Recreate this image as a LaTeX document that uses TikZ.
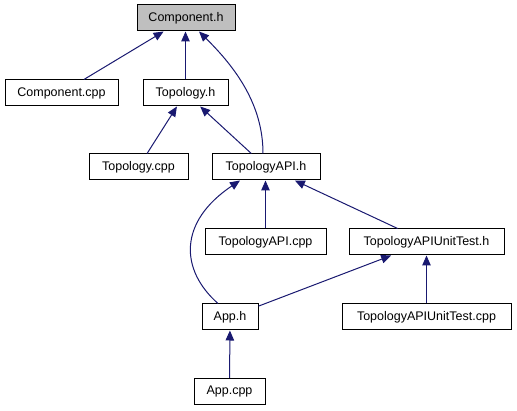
\documentclass[tikz,border=0pt]{standalone}
\usepackage{fontspec}
\setmainfont{Liberation Sans}
\usetikzlibrary{arrows.meta}
\definecolor{edgecol}{HTML}{191970}
\definecolor{grayfill}{HTML}{BFBFBF}
\begin{document}
\begin{tikzpicture}[x=1pt,y=-1pt,
  box/.style={draw=black,line width=1pt,fill=white,inner sep=0pt,minimum height=26pt,
    font=\fontsize{12.5}{15}\selectfont,anchor=center},
  edge/.style={draw=edgecol,line width=1pt,-{Triangle[length=10pt,width=8.5pt]},shorten >=0pt}]
\useasboundingbox (0,0) rectangle (517,411);
\node[box,fill=grayfill,minimum width=98pt] (comph) at (186,18) {Component.h};
\node[box,minimum width=113pt] (compcpp) at (61.5,93) {Component.cpp};
\node[box,minimum width=85pt] (toph) at (185.5,93) {Topology.h};
\node[box,minimum width=99pt] (topcpp) at (138.5,167) {Topology.cpp};
\node[box,minimum width=108pt] (apih) at (266,167) {TopologyAPI.h};
\node[box,minimum width=121pt] (apicpp) at (265.5,242) {TopologyAPI.cpp};
\node[box,minimum width=155pt] (unith) at (426.5,242) {TopologyAPIUnitTest.h};
\node[box,minimum width=56pt] (apph) at (230,317) {App.h};
\node[box,minimum width=169pt] (unitcpp) at (426.5,317) {TopologyAPIUnitTest.cpp};
\node[box,minimum width=71pt] (appcpp) at (229.5,391.5) {App.cpp};
\draw[edge] (compcpp) -- (comph);
\draw[edge] (toph.north) -- (toph.north |- comph.south);
\draw[edge] ([xshift=-3pt]apih.north) .. controls (263,105) and (236,68) .. ([xshift=13pt]comph.south);
\draw[edge] (topcpp) -- (toph);
\draw[edge] (apih) -- (toph);
\draw[edge] (apicpp.north) -- (apicpp.north |- apih.south);
\draw[edge] (unith) -- (apih);
\draw[edge] ([xshift=-12pt]apph.north) .. controls (180,270) and (178,222) .. ([xshift=-26pt]apih.south);
\draw[edge] (apph) -- (unith);
\draw[edge] (unitcpp) -- (unith);
\draw[edge] (appcpp) -- (apph);
\end{tikzpicture}
\end{document}
